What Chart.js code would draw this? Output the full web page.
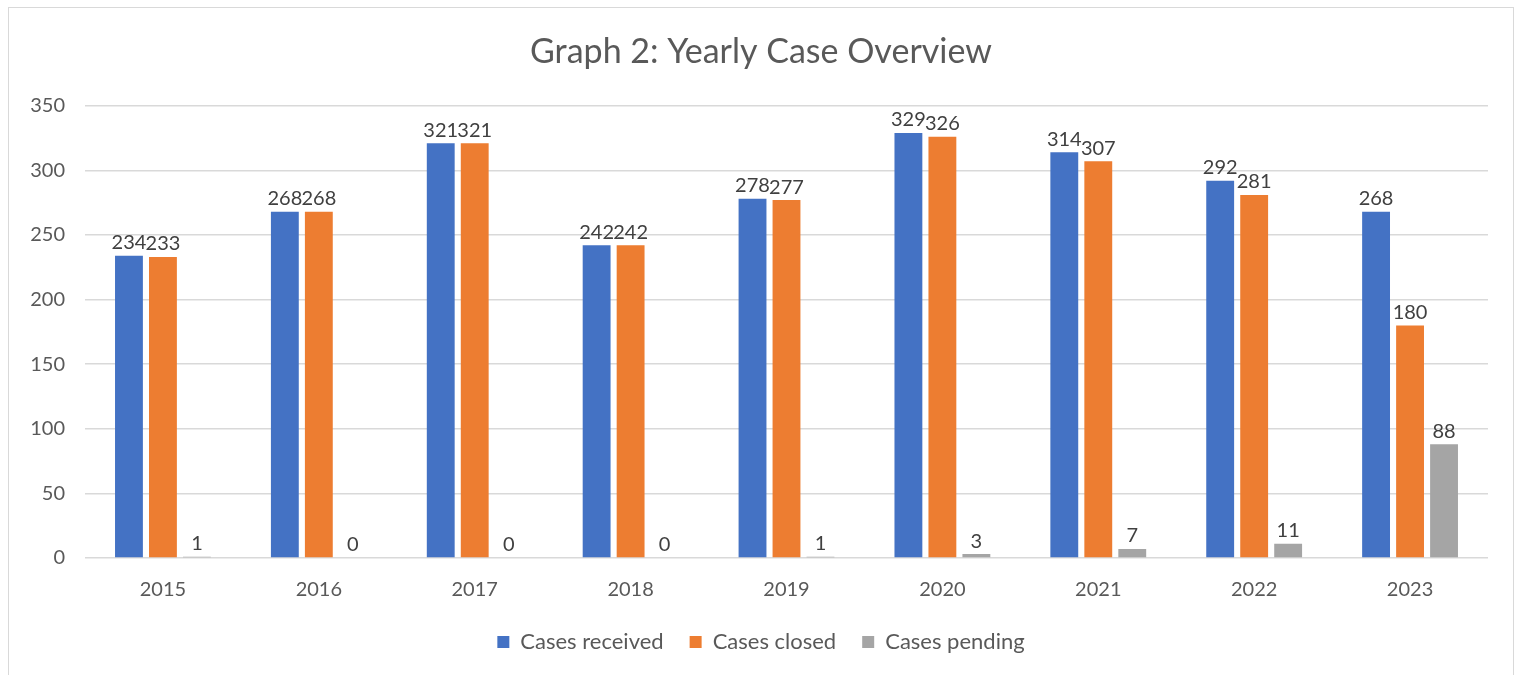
<!DOCTYPE html>
<html>
<head>
<meta charset="utf-8">
<script src="https://cdn.jsdelivr.net/npm/chart.js@4"></script>
<style>
  body { margin: 0; background: #fff; }
  #box { position: absolute; left: 8px; top: 7px; width: 1506px; height: 670px; border: 1px solid #d9d9d9; box-sizing: border-box; }
</style>
</head>
<body>
<div id="box"><canvas id="myChart"></canvas></div>
<script>
const years = ["2015", "2016", "2017", "2018", "2019", "2020", "2021", "2022", "2023"];
const received = [234, 268, 321, 242, 278, 329, 314, 292, 268];
const closed = [233, 268, 321, 242, 277, 326, 307, 281, 180];
const pending = [1, 0, 0, 0, 1, 3, 7, 11, 88];
const yTicks = [0, 50, 100, 150, 200, 250, 300, 350];

const ctx = document.getElementById("myChart");
const textColor = "#595959";
const fontFamily = "Lato, 'Open Sans', sans-serif";

// draw the value above every bar
const valueLabels = {
  id: "valueLabels",
  afterDatasetsDraw(chart) {
    const c = chart.ctx;
    c.save();
    c.font = "20px " + fontFamily;
    c.fillStyle = "#404040";
    c.textAlign = "center";
    c.textBaseline = "bottom";
    chart.data.datasets.forEach((ds, i) => {
      chart.getDatasetMeta(i).data.forEach((bar, j) => {
        c.fillText(ds.data[j], bar.x, bar.y - 3);
      });
    });
    c.restore();
  },
};

new Chart(ctx, {
  type: "bar",
  data: {
    labels: years,
    datasets: [
      { label: "Cases received", data: received, backgroundColor: "#4472C4" },
      { label: "Cases closed", data: closed, backgroundColor: "#ED7D31" },
      { label: "Cases pending", data: pending, backgroundColor: "#A5A5A5" },
    ],
  },
  options: {
    responsive: true,
    maintainAspectRatio: false,
    animation: false,
    datasets: {
      bar: { categoryPercentage: 0.654, barPercentage: 0.82 },
    },
    layout: { padding: { left: 0, right: 0, top: 0, bottom: 13 } },
    plugins: {
      title: {
        display: true,
        text: "Graph 2: Yearly Case Overview",
        color: textColor,
        font: { family: fontFamily, size: 34, weight: "normal" },
        padding: { top: 24, bottom: 33 },
      },
      legend: {
        position: "bottom",
        labels: {
          color: textColor,
          font: { family: fontFamily, size: 22 },
          boxWidth: 12,
          boxHeight: 12,
          padding: 26,
        },
      },
      tooltip: { enabled: false },
    },
    scales: {
      x: {
        afterFit: (axis) => { axis.height = 47; },
        grid: { display: false },
        border: { display: false },
        ticks: { color: textColor, font: { family: fontFamily, size: 20 }, padding: 12 },
      },
      y: {
        min: 0,
        max: 350,
        afterBuildTicks: (axis) => { axis.ticks = yTicks.map((v) => ({ value: v })); },
        afterFit: (axis) => { axis.width = 76; },
        grid: { color: "#d9d9d9", lineWidth: 1.5, drawTicks: false },
        border: { display: false },
        ticks: { color: textColor, font: { family: fontFamily, size: 20 }, padding: 20 },
      },
      // empty right-hand axis, only keeps the gap at the right edge
      yRight: {
        position: "right",
        min: 0,
        max: 350,
        afterFit: (axis) => { axis.width = 25; },
        grid: { display: false },
        border: { display: false },
        ticks: { display: false },
      },
    },
  },
  plugins: [valueLabels],
});
</script>
</body>
</html>
